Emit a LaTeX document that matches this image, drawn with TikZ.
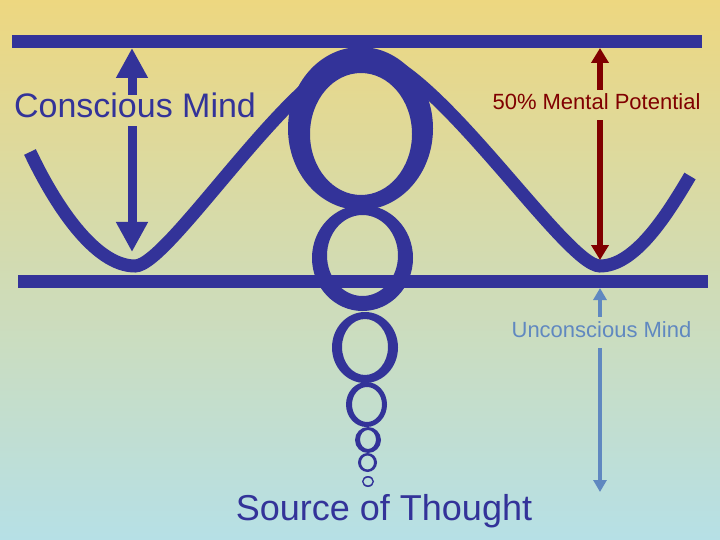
\documentclass[tikz,border=0pt]{standalone}
\usepackage{fontspec}
\setmainfont{Liberation Sans}
\usetikzlibrary{arrows.meta}
\definecolor{mindblue}{RGB}{51,51,153}
\definecolor{potred}{RGB}{128,0,0}
\definecolor{unblue}{RGB}{96,136,192}
\definecolor{bgtop}{RGB}{237,215,128}
\definecolor{bgbot}{RGB}{182,224,230}
\begin{document}
\begin{tikzpicture}[x=1pt,y=-1pt]
\tikzset{
    bar/.style={mindblue,line width=13pt},
    wave/.style={mindblue,line width=13pt},
    bubble/.style={fill=mindblue,even odd rule},
    cmarrow/.style={mindblue,line width=9pt,-{Triangle[length=30pt,width=30pt]}},
    mparrow/.style={potred,line width=6pt,-{Triangle[length=15pt,width=17pt]}},
    umarrow/.style={unblue,line width=4.5pt,-{Triangle[length=12pt,width=13pt]}},
    lbl/.style={inner sep=0pt,anchor=base}
}
\shade[top color=bgtop,bottom color=bgbot] (0,0) rectangle (720,540);
\useasboundingbox (0,0) rectangle (720,540);
% the two levels
\draw[bar] (12,41.5) -- (702,41.5);
\draw[bar] (18,281.5) -- (708,281.5);
% thought wave
\draw[wave] (30,152) .. controls (55,205) and (95,266) .. (135,266)
    .. controls (170,266) and (300,55) .. (365,55)
    .. controls (430,55) and (565,266) .. (600,266)
    .. controls (635,266) and (667,215) .. (690,176);
% bubbles rising from the source
\foreach \ox/\oy/\orx/\ory/\ix/\iy/\irx/\iry in {
    360.5/128.5/72.5/81.5/361/134/51/61,
    362.5/258/50.5/53/362.5/255.5/35.5/40.5,
    365/347.5/33/35.5/365/347/23/28,
    366.5/404.5/20.5/22.5/367/404.5/15/17.5,
    368/440/13/13/368/439.5/8/9.5,
    367.5/462.5/9.5/9.5/367.5/462.5/6.5/7,
    368/481.5/6/5.5/368/481.5/4.5/4}
  \fill[bubble] (\ox,\oy) ellipse[x radius=\orx,y radius=\ory]
                (\ix,\iy) ellipse[x radius=\irx,y radius=\iry];
% labels
\node[lbl,font=\fontsize{34}{40}\selectfont,text=mindblue,text height=23pt,text depth=8pt] (cm) at (135,118) {Conscious Mind};
\node[lbl,font=\fontsize{22}{26}\selectfont,text=potred,text height=20pt,text depth=10pt] (mp) at (596.5,110) {50\% Mental Potential};
\node[lbl,font=\fontsize{22}{26}\selectfont,text=unblue,text height=20pt,text depth=11pt] (um) at (601.5,337) {Unconscious Mind};
\node[lbl,font=\fontsize{36}{42}\selectfont,text=mindblue] (src) at (384,520) {Source of Thought};
% arrow ends
\coordinate (cmtop) at (132,48);
\coordinate (cmbot) at (132,252);
\coordinate (mptop) at (600,48);
\coordinate (mpbot) at (600,260);
\coordinate (umtop) at (600,288);
\coordinate (umbot) at (600,492);
\draw[cmarrow] (cm.north -| cmtop) -- (cmtop);
\draw[cmarrow] (cm.south -| cmbot) -- (cmbot);
\draw[mparrow] (mp.north -| mptop) -- (mptop);
\draw[mparrow] (mp.south -| mpbot) -- (mpbot);
\draw[umarrow] (um.north -| umtop) -- (umtop);
\draw[umarrow] (um.south -| umbot) -- (umbot);
\end{tikzpicture}
\end{document}
